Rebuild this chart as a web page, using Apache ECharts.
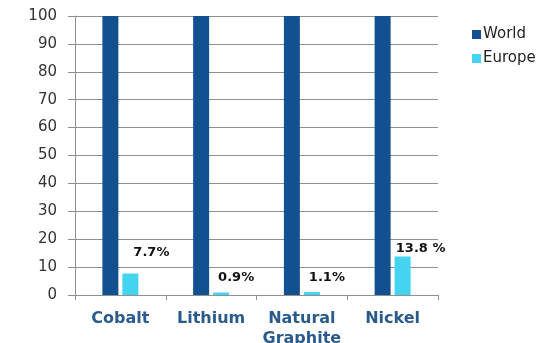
<!DOCTYPE html>
<html>
<head>
<meta charset="utf-8">
<script src="https://cdn.jsdelivr.net/npm/echarts@6/dist/echarts.min.js"></script>
<style>
  html, body { margin: 0; padding: 0; background: #fff; }
  #chart { width: 537px; height: 343px; }
</style>
</head>
<body>
<div id="chart"></div>
<script>
// Share of global supply: world total vs. Europe, per raw material
const categories = ['Cobalt', 'Lithium', 'Natural\nGraphite', 'Nickel'];
const worldValues = [100, 100, 100, 100];
const europeValues = [7.7, 0.9, 1.1, 13.8];
const europeLabels = ['7.7%', '0.9%', '1.1%', '13.8 %'];
const yTicks = { min: 0, max: 100, interval: 10 };

// label placement next to each Europe bar
const labelOffsets = [[21, -9], [15, -3], [15, -3], [18, 4]];

const axisGray = '#8f8f8f';
const chart = echarts.init(document.getElementById('chart'));

chart.setOption({
  animation: false,
  grid: { left: 75, right: 99, top: 16, bottom: 48, containLabel: false, outerBoundsMode: 'none' },
  legend: {
    orient: 'vertical',
    left: 467,
    top: 22,
    itemWidth: 9,
    itemHeight: 9,
    itemGap: 9,
    icon: 'rect',
    textStyle: {
      fontFamily: 'DejaVu Sans', fontSize: 15, lineHeight: 15,
      color: '#222', padding: [0, 0, 0, -3]
    },
    data: ['World', 'Europe']
  },
  xAxis: {
    type: 'category',
    data: categories,
    axisLine: { show: true, lineStyle: { color: axisGray, width: 1 } },
    axisTick: { show: true, alignWithLabel: false, length: 5, lineStyle: { color: axisGray } },
    axisLabel: {
      interval: 0,
      margin: 14,
      fontFamily: 'DejaVu Sans',
      fontWeight: 'bold',
      fontSize: 16,
      lineHeight: 20,
      color: '#2a5b8c'
    },
    splitLine: { show: false }
  },
  yAxis: {
    type: 'value',
    min: yTicks.min,
    max: yTicks.max,
    interval: yTicks.interval,
    axisLine: { show: true, lineStyle: { color: axisGray, width: 1 } },
    axisTick: { show: true, length: 7, lineStyle: { color: axisGray } },
    axisLabel: {
      margin: 18,
      fontFamily: 'DejaVu Sans',
      fontSize: 15,
      color: '#333'
    },
    splitLine: { show: true, lineStyle: { color: axisGray, width: 1 } }
  },
  series: [
    {
      name: 'World',
      type: 'bar',
      data: worldValues,
      barWidth: 16,
      barGap: '25%',
      itemStyle: { color: '#12508f' }
    },
    {
      name: 'Europe',
      type: 'bar',
      barWidth: 16,
      data: europeValues.map((v, i) => ({
        value: v,
        label: {
          show: true,
          position: 'top',
          offset: labelOffsets[i],
          formatter: europeLabels[i]
        }
      })),
      label: {
        fontFamily: 'DejaVu Sans',
        fontWeight: 'bold',
        fontSize: 13,
        color: '#111'
      },
      itemStyle: { color: '#45d4ef' }
    }
  ]
});
</script>
</body>
</html>
